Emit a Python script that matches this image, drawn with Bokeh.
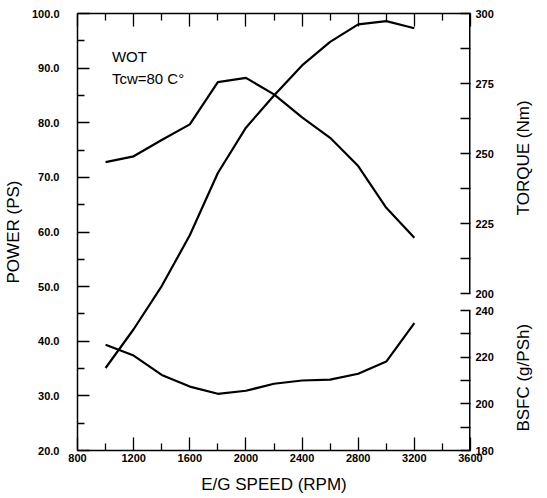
import math
from bokeh.plotting import figure
from bokeh.models import (Range1d, LinearAxis, FixedTicker, PrintfTickFormatter,
                          CustomJSTickFormatter, Label)
from bokeh.embed import file_html
from bokeh.resources import INLINE

# ---- data ----
rpm = [1000, 1200, 1400, 1600, 1800, 2000, 2200, 2400, 2600, 2800, 3000, 3200]
power_ps = [35.1, 42.2, 50.1, 59.4, 70.8, 79.1, 85.0, 90.5, 94.8, 98.0, 98.6, 97.3]
torque_nm = [246.9, 249.0, 254.8, 260.4, 275.5, 277.0, 271.1, 262.9, 255.6, 245.5, 230.6, 219.9]
bsfc_g = [225.3, 220.7, 212.4, 207.4, 204.3, 205.6, 208.6, 210.0, 210.4, 212.9, 218.1, 234.6]

x_major = [800, 1200, 1600, 2000, 2400, 2800, 3200, 3600]
x_minor = [1000, 1400, 1800, 2200, 2600, 3000, 3400]
power_major = [20, 30, 40, 50, 60, 70, 80, 90, 100]
power_minor = [25, 35, 45, 55, 65, 75, 85, 95]
torque_major = [200, 225, 250, 275, 300]
torque_minor = [212.5, 237.5, 262.5, 287.5]
bsfc_major = [180, 200, 220, 240]
bsfc_minor = [190, 210, 230]
torque_span = [200, 300]
bsfc_span = [180, 240]

# ---- layout ----
FW, FH = 393, 437
TQ_PX = 2.8          # pixels per Nm
BS_PX = 7.0 / 3.0    # pixels per g/PSh
TQ_LO = 300 - FH / TQ_PX
BS_HI = 180 + FH / BS_PX

def bsfc_to_tq(b):
    y_from_top = FH - (b - 180) * BS_PX
    return 300 - y_from_top / TQ_PX

TICK_FONT = "Liberation Sans"
LABEL_FONT = "Liberation Sans"
NB = "\u00a0"

p = figure(frame_width=FW, frame_height=FH,
           x_range=Range1d(800, 3600), y_range=Range1d(20, 100),
           output_backend="svg", toolbar_location=None,
           min_border_left=76, min_border_right=62, min_border_top=13, min_border_bottom=40,
           x_axis_label="E/G SPEED (RPM)", y_axis_label="POWER (PS)")
p.extra_y_ranges = {"tq": Range1d(TQ_LO, 300), "bs": Range1d(180, BS_HI)}
p.outline_line_color = None
p.xgrid.visible = False
p.ygrid.visible = False
p.background_fill_color = "white"
p.border_fill_color = "white"

def style_axis(ax, tin, minin):
    ax.axis_line_color = "black"
    ax.axis_line_width = 1.5
    ax.major_tick_in = tin
    ax.major_tick_out = 0
    ax.minor_tick_in = minin
    ax.minor_tick_out = 0
    ax.major_tick_line_color = "black"
    ax.minor_tick_line_color = "black"
    ax.major_tick_line_width = 1.3
    ax.minor_tick_line_width = 1.3
    ax.major_label_text_font = TICK_FONT
    ax.major_label_text_font_style = "bold"
    ax.major_label_text_font_size = "11px"
    ax.major_label_text_color = "black"
    ax.axis_label_text_font = LABEL_FONT
    ax.axis_label_text_font_style = "normal"
    ax.axis_label_text_font_size = "17px"
    ax.axis_label_text_color = "black"

# bottom axis
xa = p.xaxis[0]
xa.ticker = FixedTicker(ticks=x_major, minor_ticks=x_minor)
style_axis(xa, 13, 7)
xa.major_label_standoff = 3
xa.axis_label_standoff = 10

# left axis
ya = p.yaxis[0]
ya.ticker = FixedTicker(ticks=power_major, minor_ticks=power_minor)
ya.formatter = PrintfTickFormatter(format="%.1f")
style_axis(ya, 12, 7)
ya.major_label_standoff = 18
ya.axis_label_standoff = 6

# top axis (ticks only)
top = LinearAxis(ticker=FixedTicker(ticks=x_major, minor_ticks=x_minor))
style_axis(top, 13, 7)
top.major_label_text_font_size = "0px"
top.major_label_standoff = 0
top.major_label_text_color = None
p.add_layout(top, "above")

# right axis: torque (upper part) and BSFC (lower part) share one scale strip
r_major = torque_major + [bsfc_to_tq(b) for b in bsfc_major]
r_minor = torque_minor + [bsfc_to_tq(b) for b in bsfc_minor]
right = LinearAxis(y_range_name="tq", ticker=FixedTicker(ticks=r_major, minor_ticks=r_minor))
right.formatter = CustomJSTickFormatter(
    args=dict(split=197.0, t0=TQ_LO, k=TQ_PX / BS_PX),
    code="""
    if (tick > split) { return tick.toFixed(0); }
    return Math.round(180 + (tick - t0) * k).toString();
    """)
style_axis(right, 10, 10)
right.axis_line_color = None
right.major_label_standoff = 5
p.add_layout(right, "right")

# label-only axis for the two right-hand titles
title_ax = LinearAxis(y_range_name="bs", ticker=FixedTicker(ticks=[]))
style_axis(title_ax, 0, 0)
title_ax.axis_line_color = None
title_ax.major_tick_line_color = None
title_ax.minor_tick_line_color = None
title_ax.major_label_text_font_size = "0px"
title_ax.major_label_standoff = 0
title_ax.axis_label_standoff = 27
if "axis_label_align" in title_ax.properties():
    # reads bottom to top, starting near the bottom of the frame
    title_ax.axis_label_align = "start"
    title_ax.axis_label_orientation = math.pi / 2
    title_ax.axis_label = NB * 4 + "BSFC (g/PSh)" + NB * 23 + "TORQUE (Nm)"
else:
    title_ax.axis_label = "TORQUE (Nm)" + NB * 23 + "BSFC (g/PSh)"
p.add_layout(title_ax, "right")

# right axis lines (two separate strips, drawn on the frame edge)
p.segment(x0=[3600], y0=[torque_span[0]], x1=[3600], y1=[torque_span[1]],
          y_range_name="tq", line_width=3, line_color="black")
p.segment(x0=[3600], y0=[bsfc_span[0]], x1=[3600], y1=[bsfc_span[1]],
          y_range_name="bs", line_width=3, line_color="black")

# curves
p.line(rpm, power_ps, line_width=2.2, line_color="black", line_join="round")
p.line(rpm, torque_nm, y_range_name="tq", line_width=2.2, line_color="black", line_join="round")
p.line(rpm, bsfc_g, y_range_name="bs", line_width=2.2, line_color="black", line_join="round")

# annotations
p.add_layout(Label(x=1045, y=90.6, text="WOT", text_font=LABEL_FONT,
                   text_font_size="15px", text_color="black"))
p.add_layout(Label(x=1045, y=86.6, text="Tcw=80 C°", text_font=LABEL_FONT,
                   text_font_size="15px", text_color="black"))

open("out.html", "w").write(file_html(p, INLINE))
